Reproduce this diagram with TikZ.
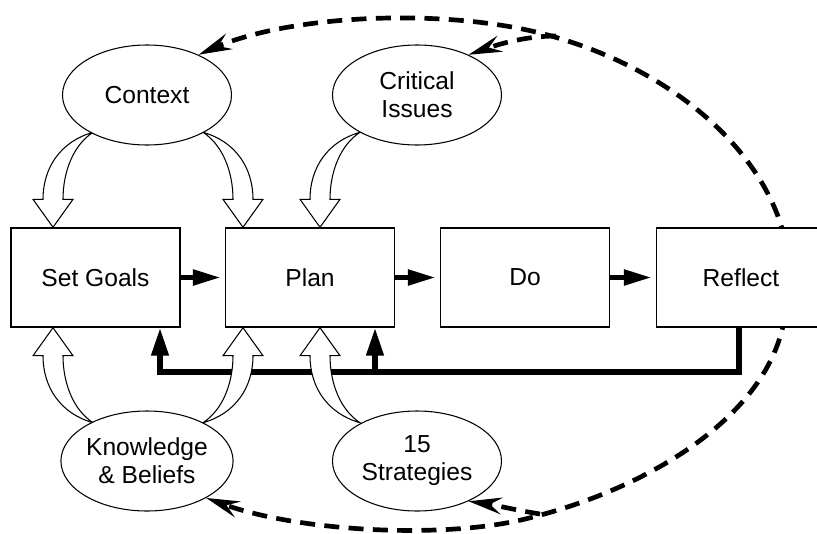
\documentclass[tikz,border=0pt]{standalone}
\usepackage{fontspec}
\setmainfont{Liberation Sans}
\usetikzlibrary{arrows.meta,shapes.geometric,calc}
\pgfdeclarelayer{back}
\pgfsetlayers{back,main}

\begin{document}
\begin{tikzpicture}[
        x=0.03cm, y=-0.03cm,
        font=\fontsize{21}{24}\selectfont
    ]
    \tikzset{
        stagebox/.style = {rectangle, draw=black, line width=1.2pt, fill=white,
                           minimum width=5.07cm, minimum height=2.97cm, inner sep=0pt},
        source/.style   = {ellipse, draw=black, line width=0.9pt, fill=white, align=center,
                           minimum width=5.07cm, minimum height=3.0cm, inner sep=0pt},
        flow/.style     = {line width=4.6pt, -{Triangle[length=0.84cm,width=0.45cm]},
                           shorten >=0.12cm},
        backline/.style = {line width=4.6pt, line join=miter},
        cycleline/.style = {line width=4pt, dash pattern=on 0.45cm off 0.28cm,
                           -{Stealth[length=1.0cm,width=0.5cm,inset=0.35cm]}},
        hollow/.pic = {
            \filldraw[fill=white, draw=black, line width=0.9pt, line join=miter]
                (0,0) -- (20,-28) -- (10,-28)
                .. controls (10,-55) and (20,-82) .. (40,-95)
                .. controls (8,-86) and (-10,-60) .. (-10,-28)
                -- (-20,-28) -- cycle;
        },
    }
    \useasboundingbox (0,0) rectangle (817,533);
    % the four sources sit on top
    \node[source] at (147,95) (ctx) {Context};
    \node[source] at (417,95) (crit) {Critical\\Issues};
    \node[source] at (147,461) (kb) {Knowledge\\\& Beliefs};
    \node[source] at (417,461) (strat) {15\\Strategies};
    \begin{pgfonlayer}{back}
    % dashed cycle behind everything
    \draw[cycleline] (785,240) .. controls (765,150) and (670,66) .. (540,33)
        .. controls (440,8) and (290,15) .. (ctx.38);
    \draw[cycleline] (556,36) .. controls (530,36) and (505,42) .. (crit.38);
    \draw[cycleline] (785,315) .. controls (770,420) and (640,490) .. (533,517)
        .. controls (450,540) and (300,532) .. (kb.328);
    \draw[cycleline] (540,514) .. controls (515,510) and (495,505) .. (strat.322);
    %
    \node[stagebox] at (95.5,277.5) (goals) {Set Goals};
    \node[stagebox] at (310,277.5) (plan) {Plan};
    \node[stagebox] at (525,277.5) (do) {Do};
    \node[stagebox] at (741,277.5) (reflect) {Reflect};
    %
    \draw[flow] (goals) -- (plan);
    \draw[flow] (plan) -- (do);
    \draw[flow] (do) -- (reflect);
    %
    \coordinate (fbr) at (739,372);
    \coordinate (fbl) at (160,372);
    \coordinate (fbm) at (375,372);
    \draw[backline, -{Triangle[length=0.84cm,width=0.5cm]}]
        (reflect.south -| fbr) -- (fbr) -- (fbl) -- (goals.south -| fbl);
    \draw[backline, -{Triangle[length=0.84cm,width=0.5cm]}] (fbm) -- (plan.south -| fbm);
    %
    \pic at ($(goals.north)+(-42.5,0)$) {hollow};
    \pic[xscale=-1] at ($(plan.north)+(-67,0)$) {hollow};
    \pic at ($(plan.north)+(10,0)$) {hollow};
    \pic[yscale=-1] at ($(goals.south)+(-42.5,0)$) {hollow};
    \pic[xscale=-1,yscale=-1] at ($(plan.south)+(-67,0)$) {hollow};
    \pic[yscale=-1] at ($(plan.south)+(10,0)$) {hollow};
    \end{pgfonlayer}
\end{tikzpicture}
\end{document}
